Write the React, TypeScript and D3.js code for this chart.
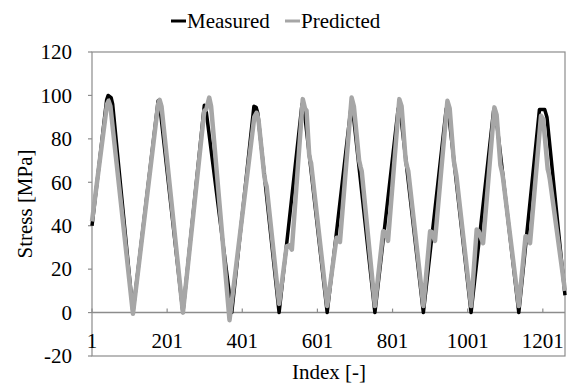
import * as d3 from 'd3';
import React from 'react';

// vertices: [index, stress MPa]
const measured: [number, number][] = [
  [1, 40], [40, 98], [44, 100], [52, 99], [56, 96], [110, 0],
  [177, 97.5], [181, 96], [243, 0],
  [300, 95.5], [304, 94], [373, 0],
  [432, 95], [438, 94.5], [442, 92], [499, 0],
  [560, 96], [566, 93], [627, 0],
  [690, 94], [696, 92], [754, 0],
  [816, 94], [822, 92], [883, 0],
  [944, 94], [950, 92], [1010, 0],
  [1070, 93], [1076, 91], [1137, 0],
  [1192, 93.5], [1206, 93.5], [1212, 90], [1260, 8],
];

const predicted: [number, number][] = [
  [1, 42], [41, 96], [45, 97.5], [50, 95], [110, -0.5],
  [177, 96], [181, 98], [186, 95], [243, 0],
  [300, 93], [305, 93.5], [313, 99], [318, 95], [367, -3.5],
  [433, 90], [439, 92], [444, 89], [459, 64], [462, 60.5], [466, 58], [499, 4],
  [519, 30.5], [526, 31], [533, 29], [562, 98.3], [568, 94], [572, 93], [579, 73], [582, 70], [584, 69], [627, 3],
  [652, 34.5], [657, 34.5], [661, 32.5], [692, 99], [698, 95], [712, 70], [716, 67], [719, 65], [754, 3],
  [776, 37.5], [782, 37], [789, 33], [819, 98.3], [825, 95], [836, 70], [840, 67], [843, 65], [883, 3],
  [901, 37.5], [906, 37], [914, 33], [947, 97.5], [953, 94], [964, 70], [968, 66], [971, 63], [1010, 3],
  [1025, 38.3], [1030, 37.5], [1042, 32], [1072, 94.5], [1078, 91], [1088, 68], [1092, 65], [1095, 62], [1137, 3],
  [1155, 35.2], [1160, 35], [1167, 32], [1196, 90.6], [1202, 89], [1214, 66], [1217, 64], [1220, 61], [1260, 10],
];

const xTicks = [1, 201, 401, 601, 801, 1001, 1201];
const yTicks = [-20, 0, 20, 40, 60, 80, 100, 120];

const width = 567;
const height = 385;
const font = "'Liberation Serif', serif";
const axisColor = '#8c8c8c';

const App = () => {
  const x = d3.scaleLinear().domain([1, 1260]).range([92, 565]);
  const y = d3.scaleLinear().domain([-20, 120]).range([356, 52]);

  const line = d3
    .line<[number, number]>()
    .x((d) => x(d[0]))
    .y((d) => y(d[1]));

  const y0 = y(0);

  return (
    <svg
      width={width}
      height={height}
      style={{ position: 'absolute', left: 0, top: 0, background: '#fff', fontFamily: font, fontSize: 21 }}
    >
      <rect width={width} height={height} fill="#fff" />

      {/* plot area border */}
      <rect
        x={x(1)}
        y={y(120)}
        width={x(1260) - x(1)}
        height={y(-20) - y(120)}
        fill="none"
        stroke={axisColor}
        strokeWidth={1.2}
      />

      {/* y ticks + labels */}
      {yTicks.map((t) => (
        <g key={t}>
          <line x1={x(1) - 4} x2={x(1)} y1={y(t)} y2={y(t)} stroke={axisColor} strokeWidth={1.2} />
          <text x={72} y={y(t)} dy="0.35em" textAnchor="end" fill="#000">
            {t}
          </text>
        </g>
      ))}

      {/* x axis at zero */}
      <line x1={x(1)} x2={x(1260)} y1={y0} y2={y0} stroke={axisColor} strokeWidth={1.4} />
      {xTicks.map((t) => (
        <g key={t}>
          <line x1={x(t)} x2={x(t)} y1={y0} y2={y0 - 4} stroke={axisColor} strokeWidth={1.2} />
          <text x={x(t)} y={348} textAnchor="middle" fill="#000">
            {t}
          </text>
        </g>
      ))}

      {/* series */}
      <path d={line(measured) ?? ''} fill="none" stroke="#000" strokeWidth={3.5} strokeLinejoin="round" />
      <path d={line(predicted) ?? ''} fill="none" stroke="#a6a6a6" strokeWidth={4.5} strokeLinejoin="round" />

      {/* axis titles */}
      <text x={329} y={379} textAnchor="middle" fill="#000">
        Index [-]
      </text>
      <text transform="translate(32,204) rotate(-90)" textAnchor="middle" fill="#000">
        Stress [MPa]
      </text>

      {/* legend */}
      <line x1={171} x2={186} y1={21} y2={21} stroke="#000" strokeWidth={3} />
      <text x={187} y={28} fill="#000">Measured</text>
      <line x1={285} x2={300} y1={21} y2={21} stroke="#a6a6a6" strokeWidth={3} />
      <text x={301} y={28} fill="#000">Predicted</text>
    </svg>
  );
};

export default App;
